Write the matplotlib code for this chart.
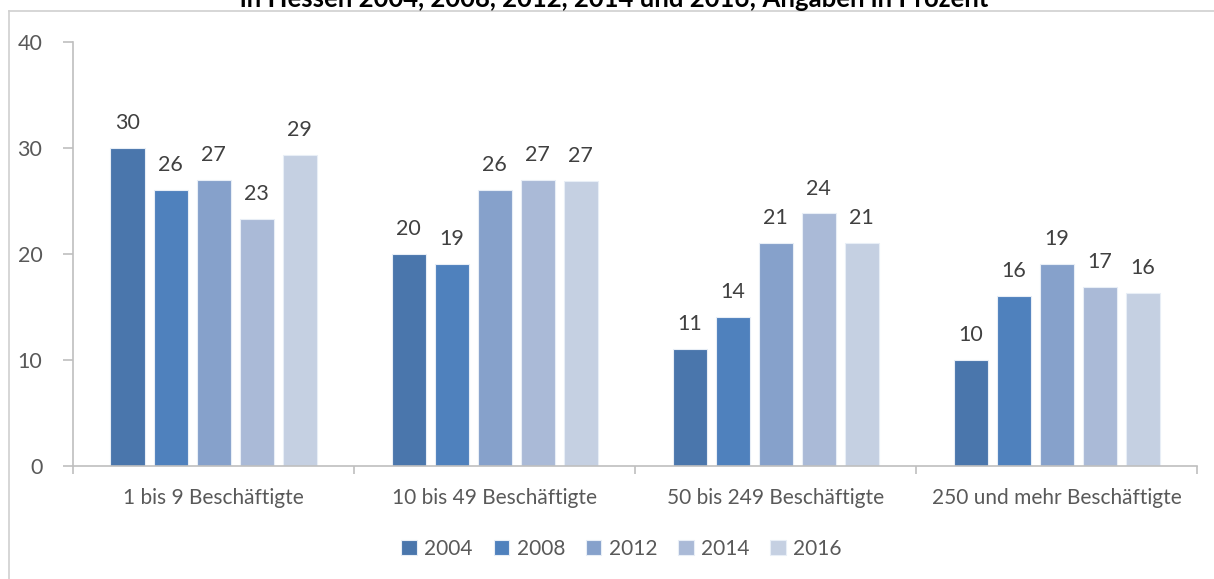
import numpy as np
import matplotlib
matplotlib.use("Agg")
from matplotlib import pyplot as plt
from matplotlib.lines import Line2D

# data
categories = ["1 bis 9 Beschäftigte", "10 bis 49 Beschäftigte",
              "50 bis 249 Beschäftigte", "250 und mehr Beschäftigte"]
years = ["2004", "2008", "2012", "2014", "2016"]
v2004 = [30.0, 20.0, 11.0, 10.0]
v2008 = [26.0, 19.0, 14.0, 16.0]
v2012 = [27.0, 26.0, 21.0, 19.0]
v2014 = [23.3, 27.0, 23.8, 16.9]
v2016 = [29.3, 26.9, 21.0, 16.3]
labels2004 = ["30", "20", "11", "10"]
labels2008 = ["26", "19", "14", "16"]
labels2012 = ["27", "26", "21", "19"]
labels2014 = ["23", "27", "24", "17"]
labels2016 = ["29", "27", "21", "16"]

series = [v2004, v2008, v2012, v2014, v2016]
series_labels = [labels2004, labels2008, labels2012, labels2014, labels2016]
colors = ["#4A76AC", "#4F81BD", "#86A1CB", "#AABAD7", "#C5D0E2"]

plt.rcParams['font.family'] = ['Lato', 'DejaVu Sans']
txt = "#404040"

fig = plt.figure(figsize=(12.14, 5.79), dpi=100)
ax = fig.add_axes([73/1214, 1-465.7/579, (1197-73)/1214, (465.7-41.7)/579])

x = np.arange(len(categories))
pitch = 43/281
width = 34/281
for i, (vals, labs) in enumerate(zip(series, series_labels)):
    pos = x + (i - 2) * pitch
    bars = ax.bar(pos, vals, width, color=colors[i], edgecolor="#E8EEF6",
                  linewidth=0.8, label=years[i], zorder=2)
    for b, lab in zip(bars, labs):
        ax.text(b.get_x() + b.get_width()/2, b.get_height() + 1.4, lab,
                ha="center", va="bottom", fontsize=15.5, color=txt)

ax.set_ylim(0, 40)
ax.set_xlim(-0.5, 3.5)
ax.set_yticks([0, 10, 20, 30, 40])
ax.set_xticks(x)
ax.set_xticklabels(categories)
ax.set_xticks(np.arange(-0.5, 4, 1), minor=True)
ax.tick_params(axis="x", which="major", length=0, pad=16, labelsize=15, labelcolor="#595959")
ax.tick_params(axis="x", which="minor", length=6, color="#BFBFBF", width=1.2)
ax.tick_params(axis="y", length=7, color="#BFBFBF", width=1.2, pad=15,
               labelsize=15.5, labelcolor="#595959")
for s in ["top", "right"]:
    ax.spines[s].set_visible(False)
for s in ["left", "bottom"]:
    ax.spines[s].set_color("#BFBFBF")
    ax.spines[s].set_linewidth(1.2)

# chart border (top and left) of the clipped source chart
fig.add_artist(Line2D([9/1214, 9/1214], [0, 1-11/579], color="#D0D0D0", lw=1.2))
fig.add_artist(Line2D([9/1214, 1], [1-11/579, 1-11/579], color="#D0D0D0", lw=1.2))

fig.text(0.506, 1-7/579, "in Hessen 2004, 2008, 2012, 2014 und 2016; Angaben in Prozent",
         ha="center", va="baseline", fontsize=18.5, fontweight="bold", color="black")

handles, hl = ax.get_legend_handles_labels()
fig.legend(handles, hl, loc="center", bbox_to_anchor=(0.512, 1-549/579), ncol=5,
           frameon=False, fontsize=15, labelcolor="#595959", handlelength=0.75,
           handleheight=0.75, handletextpad=0.35, columnspacing=1.0)

plt.savefig("out.png", dpi=100)
